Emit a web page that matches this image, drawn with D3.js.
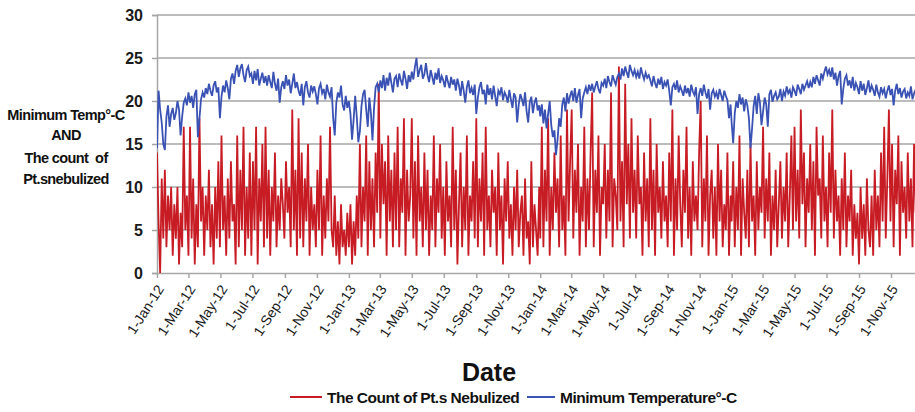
<!DOCTYPE html>
<html><head><meta charset="utf-8">
<script src="https://cdn.jsdelivr.net/npm/d3@7"></script>
<style>
html,body{margin:0;padding:0;background:#fff;overflow:hidden;}
svg{display:block;}
</style></head>
<body>
<svg id="chart" width="915" height="412"></svg>
<script>
// ---- DATA (one value every 3 days, starting 1 January of each year) ----
const years = [2012, 2013, 2014, 2015];
const stepDays = 3;
const yTicks = [0, 5, 10, 15, 20, 25, 30];
const seriesNames = ["The Count of Pt.s Nebulized", "Minimum Temperature\u00b0-C"];

const count2012 = [14,6,0,11,4,12,3,9,5,10, 2,8,4,10,1,7,3,17,5,9, 2,17,4,11,1,8,3,18,6,10, 2,9,5,12,3,8,1,10,4,13,
  3,16,5,9,2,11,4,13,6,8, 1,16,3,12,5,17,2,10,4,14, 2,13,5,17,1,11,6,15,3,17, 4,12,2,10,6,14,3,9,5,11,
  8,4,13,7,10,3,19,5,12,2, 18,4,14,3,11,6,15,2,10,5, 8,3,12,5,16,2,9,4,11,6, 17,5,3,9,2,6,1,8,3,5, 2,7];
const count2013 = [3,8,1,6,2,9,4,15,3,10, 6,16,2,13,5,11,3,14,7,22, 4,15,8,13,2,16,6,12,3,14, 5,17,3,11,7,18,2,12,6,9,
  18,4,13,2,16,6,10,3,14,5, 12,2,9,5,16,3,11,7,15,4, 10,2,13,6,9,3,17,5,12,1, 8,14,3,10,5,16,2,9,6,13,
  4,18,3,11,6,14,2,17,5,9, 3,12,7,10,2,14,5,9,1,11, 6,13,4,8,2,10,5,12,3,7, 9,2,11,4,6,1,13,3,8,5, 2,10];
const count2014 = [4,17,3,12,6,18,2,10,5,14, 7,11,3,16,5,9,2,19,6,13, 19,4,12,7,15,2,10,6,17,3, 11,5,14,21,3,12,7,16,2,10,
  8,15,4,12,6,21,3,11,9,5, 24,6,13,3,22,8,15,4,18,7, 12,4,16,8,10,2,14,6,11,3, 18,5,12,2,15,7,10,4,13,6,
  9,3,14,6,19,2,11,5,16,8, 3,12,7,17,4,10,2,13,6,9, 5,14,20,3,11,6,16,2,9,12, 4,10,2,15,6,12,3,8,5,14, 2,9];
const count2015 = [6,13,3,10,5,16,2,11,7,4, 12,3,15,6,9,2,13,5,10,7, 17,4,11,6,14,2,9,5,12,3, 8,13,4,10,6,14,3,9,16,5,
  17,6,12,4,19,8,14,3,11,7, 15,5,13,2,17,9,11,4,16,6, 10,3,14,7,19,4,12,6,9,2, 11,5,14,3,9,6,12,2,8,4,
  7,1,10,4,8,2,11,5,3,9, 2,12,5,9,3,14,6,17,4,11, 19,6,15,3,12,8,16,2,13,7, 10,4,14,6,11,3,15,7,9,5,12,6];

const temp2012 = [14.5,21.2,19.0,17.5,15.0,14.3,18.2,19.5,17.0,18.5, 19.2,17.8,18.6,20.0,19.0,16.0,18.2,19.8,20.3,19.5,
  21.0,19.8,20.6,19.2,20.8,21.3,15.8,18.0,20.2,21.0, 20.4,21.5,20.8,22.0,21.2,20.6,21.8,22.3,21.0,21.6,
  18.0,20.5,21.8,21.0,22.4,21.5,20.2,22.6,23.2,22.0, 23.5,24.2,22.8,23.8,24.3,23.0,22.2,23.6,24.0,22.9,
  23.2,22.0,23.5,22.4,23.7,21.8,22.6,23.3,22.1,22.9, 21.8,23.0,22.2,21.5,23.4,22.0,21.2,22.6,19.8,21.6,
  22.3,21.4,23.0,21.8,22.5,20.9,22.0,23.2,21.5,22.2, 21.2,20.6,22.0,19.5,21.6,22.3,21.0,20.4,21.8,21.1,
  21.7,20.8,19.6,21.5,22.0,20.9,21.4,20.2,21.9,21.0, 20.5,21.6,18.0,16.0,19.8,21.0,20.4,21.8,19.6,18.9, 20.6,19.2];
const temp2013 = [20.0,18.5,15.5,17.8,20.6,18.2,15.2,16.5,19.4,20.8, 21.3,19.0,17.0,20.4,18.6,15.4,19.2,21.6,22.0,21.0,
  22.4,21.5,23.0,21.2,22.7,21.8,23.3,22.1,21.0,22.6, 22.9,21.6,23.2,22.4,21.8,23.5,22.6,21.4,23.0,22.2,
  23.4,22.5,24.0,25.0,22.8,23.6,24.2,22.6,23.1,24.4, 23.0,22.2,23.6,22.8,21.9,23.3,22.5,23.8,22.1,22.9,
  22.4,21.6,23.0,22.2,21.5,22.8,21.9,22.5,21.2,22.6, 21.8,20.6,22.3,21.2,19.8,21.6,22.4,20.9,21.5,20.7,
  21.9,18.5,20.4,21.6,22.2,20.8,21.3,19.6,21.9,20.7, 21.5,20.2,21.8,20.6,19.4,21.2,20.8,21.6,20.1,21.0,
  20.6,19.8,21.3,20.2,19.2,20.9,20.4,17.5,19.6,20.8, 20.2,19.4,21.0,18.8,17.5,19.9,20.5,18.6,19.8,20.4, 18.9,19.5];
const temp2014 = [18.2,19.6,17.4,19.0,16.8,18.5,20.0,17.2,15.8,16.6, 13.7,15.5,18.0,17.0,19.6,20.4,18.8,20.9,19.7,20.6,
  21.2,20.0,21.5,19.8,20.7,21.4,18.0,20.3,21.0,21.6, 20.8,21.9,21.2,22.0,21.0,21.7,22.3,21.4,20.9,22.1,
  21.8,22.6,21.5,22.9,22.2,21.7,23.0,22.4,21.9,22.8, 23.2,22.5,23.8,22.9,24.0,23.3,22.7,24.2,23.5,23.0,
  23.6,22.8,23.4,22.6,23.9,23.1,22.5,23.3,22.7,23.0, 22.4,21.7,22.9,22.1,21.5,22.6,21.9,22.8,21.4,22.2,
  21.8,22.5,21.2,19.5,21.6,22.0,21.3,22.4,21.0,21.7, 21.2,20.6,21.8,20.9,21.5,20.5,21.9,21.1,20.7,21.6,
  18.5,20.8,21.5,20.6,21.9,21.0,20.3,21.4,19.0,20.9, 21.3,20.5,21.0,20.2,21.4,20.7,20.0,21.2,20.6,20.1, 18.0,19.6];
const temp2015 = [17.5,15.1,18.6,20.0,19.2,20.8,19.6,20.4,18.8,20.2, 19.5,18.0,14.5,16.8,19.4,20.6,18.5,20.9,19.8,17.2,
  18.8,20.4,19.6,17.0,20.8,21.3,19.9,20.6,21.0,20.2, 20.5,21.4,20.0,21.1,20.6,21.7,20.9,21.3,20.4,21.6,
  21.2,20.6,21.9,21.4,20.8,22.0,21.3,21.8,22.3,21.5, 22.2,21.6,22.8,22.0,23.0,22.4,21.8,23.2,22.6,23.4,
  24.0,23.1,23.6,22.8,23.9,22.5,23.3,21.8,22.9,23.5, 19.6,21.4,22.6,23.0,21.8,22.4,21.5,22.8,21.2,22.1,
  21.6,20.8,22.3,21.2,22.0,20.7,21.5,22.4,21.0,21.8, 21.3,20.6,21.9,21.0,20.5,21.6,20.9,21.4,20.3,21.2,
  21.8,20.7,21.4,19.5,21.2,22.0,20.8,21.5,20.4,21.1, 21.4,20.3,21.0,20.6,21.7,20.2,20.9,21.3,20.5,20.0, 20.8,20.4];

const countByYear = [count2012, count2013, count2014, count2015];
const tempByYear = [temp2012, temp2013, temp2014, temp2015];

// ---- build series ----
function build(byYear) {
  const out = [];
  byYear.forEach((arr, yi) => {
    arr.forEach((v, i) => out.push({date: new Date(Date.UTC(years[yi], 0, 1 + i * stepDays)), value: v}));
  });
  return out;
}
const countSeries = build(countByYear);
const tempSeries = build(tempByYear);

// ---- layout ----
const svg = d3.select("#chart");
const x0 = 157, yTop = 15, yBottom = 273;
const pxPerDay = (891 - 157) / 1400;
const x = d3.scaleUtc()
  .domain([new Date(Date.UTC(2012, 0, 1)), new Date(Date.UTC(2016, 0, 1))])
  .range([x0, x0 + pxPerDay * 1461]);
const y = d3.scaleLinear().domain([0, 30]).range([yBottom, yTop]);
const xRight = 915;

const gridColor = "#a6a6a6";
const red = "#c81c24";
const blue = "#3a52b4";
const font = "Liberation Sans, Arial, sans-serif";

// gridlines
svg.append("g").selectAll("line").data(yTicks.filter(d => d > 0)).join("line")
  .attr("x1", x0).attr("x2", xRight)
  .attr("y1", d => y(d)).attr("y2", d => y(d))
  .attr("stroke", gridColor).attr("stroke-width", 1.5);

// y axis
const yAxis = d3.axisLeft(y).tickValues(yTicks).tickSize(5).tickPadding(9);
const gy = svg.append("g").attr("transform", `translate(${x0},0)`).call(yAxis);
gy.select(".domain").attr("stroke", gridColor).attr("stroke-width", 1.5);
gy.selectAll(".tick line").attr("stroke", gridColor).attr("stroke-width", 1.5);
gy.selectAll(".tick text").attr("font-family", font)
  .attr("font-size", 16).attr("font-weight", "bold").attr("fill", "#1a1a1a");

// x axis
const xTicks = d3.utcMonth.every(2).range(new Date(Date.UTC(2012, 0, 1)), new Date(Date.UTC(2016, 0, 1)));
const fmt = d3.utcFormat("%-d-%b-%y");
const xAxis = d3.axisBottom(x).tickValues(xTicks).tickFormat(fmt).tickSize(5).tickSizeOuter(0);
const gx = svg.append("g").attr("transform", `translate(0,${yBottom})`).call(xAxis);
gx.select(".domain").attr("stroke", gridColor).attr("stroke-width", 1.5);
gx.selectAll(".tick line").attr("stroke", gridColor).attr("stroke-width", 1.5);
gx.selectAll(".tick text")
  .attr("font-family", font).attr("font-size", 14).attr("fill", "#1a1a1a")
  .attr("text-anchor", "end").attr("dy", null).attr("y", 0)
  .attr("transform", "translate(7,16) rotate(-57)");

// lines
svg.append("clipPath").attr("id", "clip").append("rect")
  .attr("x", x0).attr("y", 0).attr("width", xRight - x0).attr("height", yBottom + 2);
const line = d3.line().x(d => x(d.date)).y(d => y(d.value));
svg.append("path").datum(countSeries).attr("clip-path", "url(#clip)")
  .attr("fill", "none").attr("stroke", red).attr("stroke-width", 1.8).attr("d", line);
svg.append("path").datum(tempSeries).attr("clip-path", "url(#clip)")
  .attr("fill", "none").attr("stroke", blue).attr("stroke-width", 1.8).attr("d", line);

// y title
const ytl = ["Minimum Temp\u00b0-C", "AND", "The count  of", "Pt.snebulized"];
const yty = [120, 140, 163, 184];
svg.append("g").selectAll("text").data(ytl).join("text")
  .attr("x", 66).attr("y", (d, i) => yty[i]).attr("text-anchor", "middle")
  .attr("font-family", font).attr("font-size", 14.5).attr("font-weight", "bold")
  .attr("letter-spacing", -0.6).attr("fill", "#111").style("white-space", "pre").text(d => d);

// x title
svg.append("text").attr("x", 489).attr("y", 381).attr("text-anchor", "middle")
  .attr("font-family", font).attr("font-size", 25).attr("font-weight", "bold")
  .attr("fill", "#111").text("Date");

// legend
const legend = [{name: seriesNames[0], color: red, x1: 290, x2: 322, tx: 327},
                {name: seriesNames[1], color: blue, x1: 527, x2: 555, tx: 560}];
const lg = svg.append("g");
lg.selectAll("line").data(legend).join("line")
  .attr("x1", d => d.x1).attr("x2", d => d.x2).attr("y1", 397).attr("y2", 397)
  .attr("stroke", d => d.color).attr("stroke-width", 2);
lg.selectAll("text").data(legend).join("text")
  .attr("x", d => d.tx).attr("y", 402.5)
  .attr("font-family", font).attr("font-size", 15.5).attr("font-weight", "bold")
  .attr("letter-spacing", -0.5).attr("fill", "#111").text(d => d.name);
</script>
</body></html>
